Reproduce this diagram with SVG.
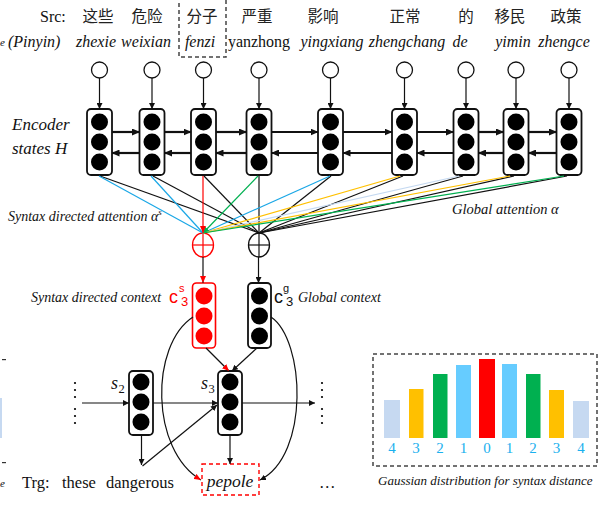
<svg xmlns="http://www.w3.org/2000/svg" width="608" height="506" viewBox="0 0 608 506">
<style>
.t{font-family:"Liberation Serif","Times New Roman",serif;fill:#111}
.cjk{font-family:"Noto Sans CJK SC","Noto Sans CJK JP",sans-serif;fill:#222;font-size:15.5px;text-anchor:middle}
.zh{font-size:16px;text-anchor:middle}
.py{font-size:16px;font-style:italic;text-anchor:middle}
.it{font-style:italic}
.sans{font-family:"Liberation Sans",Arial,sans-serif}
.box{fill:#fff;stroke:#111;stroke-width:1.8}
.rbox{fill:#fff;stroke:#f00;stroke-width:1.6}
.dot{fill:#000}
.rdot{fill:#f00}
.inp{fill:#fff;stroke:#111;stroke-width:1.3}
.ln{stroke:#111;stroke-width:1.2;fill:none}
.thick{stroke:#111;stroke-width:2.2;fill:none}
.att{stroke-width:1.2;fill:none}
.num{font-family:"Liberation Serif","Times New Roman",serif;font-size:15px;fill:#1ab0ee;text-anchor:middle}
</style>
<defs>
<marker id="ah" markerUnits="userSpaceOnUse" markerWidth="8" markerHeight="7" refX="7.5" refY="3.5" orient="auto"><path d="M0,0 L8,3.5 L0,7 z" fill="#111"/></marker>
<marker id="ahs" markerUnits="userSpaceOnUse" markerWidth="6" markerHeight="6" refX="6" refY="3" orient="auto"><path d="M0,0 L6,3 L0,6 z" fill="#111"/></marker>
<marker id="ahr" markerUnits="userSpaceOnUse" markerWidth="7" markerHeight="6" refX="7" refY="3" orient="auto"><path d="M0,0 L7,3 L0,6 z" fill="#f00"/></marker>
<marker id="ahg" markerUnits="userSpaceOnUse" markerWidth="6" markerHeight="6" refX="6" refY="3" orient="auto"><path d="M0,0 L6,3 L0,6 z" fill="#00b050"/></marker>
</defs>

<!-- left edge fragments -->
<g id="edge-fragments">
<text class="t it" x="0" y="46" font-size="11">e</text>
<rect x="2" y="359" width="4" height="1.2" fill="#333"/>
<rect x="0" y="398" width="2" height="40" fill="#c6d9f1"/>
<rect x="2" y="462" width="4" height="1.2" fill="#333"/>
<text class="t it" x="0" y="487" font-size="11">e</text>
</g>

<!-- source text -->
<g id="source-text">
<text class="t" x="40" y="22" font-size="16">Src:</text>
<text class="t it" x="8" y="47" font-size="16">(Pinyin)</text>
<text class="cjk" x="98" y="22">这些</text>
<text class="cjk" x="147" y="22">危险</text>
<text class="cjk" x="202" y="22">分子</text>
<text class="cjk" x="257" y="22">严重</text>
<text class="cjk" x="323" y="22">影响</text>
<text class="cjk" x="405" y="22">正常</text>
<text class="cjk" x="466" y="22">的</text>
<text class="cjk" x="510" y="22">移民</text>
<text class="cjk" x="566" y="22">政策</text>
<text class="t py" x="96" y="47">zhexie</text>
<text class="t py" x="146" y="47">weixian</text>
<text class="t py" x="200" y="47">fenzi</text>
<text class="t zh" x="259" y="47">yanzhong</text>
<text class="t py" x="332" y="47">yingxiang</text>
<text class="t py" x="407" y="47">zhengchang</text>
<text class="t py" x="460" y="47">de</text>
<text class="t py" x="513" y="47">yimin</text>
<text class="t py" x="564" y="47">zhengce</text>
<rect x="179" y="-2" width="47" height="59" fill="none" stroke="#444" stroke-width="1.5" stroke-dasharray="4,3"/>
</g>

<!-- input nodes -->
<g id="inputs">
<circle class="inp" cx="99.5" cy="70" r="8"/>
<circle class="inp" cx="152" cy="70" r="8"/>
<circle class="inp" cx="203.5" cy="70" r="8"/>
<circle class="inp" cx="259" cy="70" r="8"/>
<circle class="inp" cx="330.5" cy="70" r="8"/>
<circle class="inp" cx="404.5" cy="70" r="8"/>
<circle class="inp" cx="466" cy="70" r="8"/>
<circle class="inp" cx="516" cy="70" r="8"/>
<circle class="inp" cx="569" cy="70" r="8"/>
</g>

<!-- encoder states -->
<g id="encoder-label">
<text class="t it" x="12" y="130" font-size="17">Encoder</text>
<text class="t it" x="12" y="154" font-size="17">states H</text>
</g>
<g id="enc1"><rect class="box" x="87" y="109" width="25" height="66" rx="4"/><circle class="dot" cx="99.5" cy="122" r="8.5"/><circle class="dot" cx="99.5" cy="142" r="8.5"/><circle class="dot" cx="99.5" cy="162" r="8.5"/></g>
<g id="enc2"><rect class="box" x="139.5" y="109" width="25" height="66" rx="4"/><circle class="dot" cx="152" cy="122" r="8.5"/><circle class="dot" cx="152" cy="142" r="8.5"/><circle class="dot" cx="152" cy="162" r="8.5"/></g>
<g id="enc3"><rect class="box" x="191" y="109" width="25" height="66" rx="4"/><circle class="dot" cx="203.5" cy="122" r="8.5"/><circle class="dot" cx="203.5" cy="142" r="8.5"/><circle class="dot" cx="203.5" cy="162" r="8.5"/></g>
<g id="enc4"><rect class="box" x="246.5" y="109" width="25" height="66" rx="4"/><circle class="dot" cx="259" cy="122" r="8.5"/><circle class="dot" cx="259" cy="142" r="8.5"/><circle class="dot" cx="259" cy="162" r="8.5"/></g>
<g id="enc5"><rect class="box" x="318" y="109" width="25" height="66" rx="4"/><circle class="dot" cx="330.5" cy="122" r="8.5"/><circle class="dot" cx="330.5" cy="142" r="8.5"/><circle class="dot" cx="330.5" cy="162" r="8.5"/></g>
<g id="enc6"><rect class="box" x="392" y="109" width="25" height="66" rx="4"/><circle class="dot" cx="404.5" cy="122" r="8.5"/><circle class="dot" cx="404.5" cy="142" r="8.5"/><circle class="dot" cx="404.5" cy="162" r="8.5"/></g>
<g id="enc7"><rect class="box" x="453.5" y="109" width="25" height="66" rx="4"/><circle class="dot" cx="466" cy="122" r="8.5"/><circle class="dot" cx="466" cy="142" r="8.5"/><circle class="dot" cx="466" cy="162" r="8.5"/></g>
<g id="enc8"><rect class="box" x="503.5" y="109" width="25" height="66" rx="4"/><circle class="dot" cx="516" cy="122" r="8.5"/><circle class="dot" cx="516" cy="142" r="8.5"/><circle class="dot" cx="516" cy="162" r="8.5"/></g>
<g id="enc9"><rect class="box" x="556.5" y="109" width="25" height="66" rx="4"/><circle class="dot" cx="569" cy="122" r="8.5"/><circle class="dot" cx="569" cy="142" r="8.5"/><circle class="dot" cx="569" cy="162" r="8.5"/></g>

<!-- attention sum nodes -->
<g id="syntax-sum">
<ellipse cx="203" cy="245" rx="10.5" ry="12" fill="#fff" stroke="#f00" stroke-width="1.3"/>
<line x1="203" y1="233" x2="203" y2="257" stroke="#f00" stroke-width="1.2"/>
<line x1="192.5" y1="245" x2="213.5" y2="245" stroke="#f00" stroke-width="1.2"/>
</g>
<g id="global-sum">
<ellipse cx="259" cy="245" rx="10.5" ry="12" fill="#fff" stroke="#111" stroke-width="1.3"/>
<line x1="259" y1="233" x2="259" y2="257" stroke="#111" stroke-width="1.2"/>
<line x1="248.5" y1="245" x2="269.5" y2="245" stroke="#111" stroke-width="1.2"/>
</g>

<g id="attention-labels">
<text class="t it" x="8" y="221" font-size="14">Syntax directed attention α<tspan font-size="9" dy="-6">s</tspan></text>
<text class="t it" x="452" y="214" font-size="14.5">Global attention α</text>
</g>

<!-- context vectors -->
<g id="syntax-context">
<rect class="rbox" x="192.5" y="283" width="23" height="65" rx="4"/>
<circle class="rdot" cx="204" cy="296" r="8.5"/><circle class="rdot" cx="204" cy="316" r="8.5"/><circle class="rdot" cx="204" cy="336" r="8.5"/>
<text class="t it" x="31" y="302" font-size="14">Syntax directed context</text>
<text class="sans" x="169" y="303" font-size="18" fill="#f00">c</text>
<text class="sans" x="179" y="292" font-size="11" fill="#f00">s</text>
<text class="sans" x="181" y="306" font-size="13" fill="#f00">3</text>
</g>
<g id="global-context">
<rect class="box" x="248" y="283" width="23" height="65" rx="4"/>
<circle class="dot" cx="259.5" cy="296" r="8.5"/><circle class="dot" cx="259.5" cy="316" r="8.5"/><circle class="dot" cx="259.5" cy="336" r="8.5"/>
<text class="sans" x="274" y="303" font-size="18" fill="#111">c</text>
<text class="sans" x="283" y="292" font-size="11" fill="#111">g</text>
<text class="sans" x="286" y="306" font-size="13" fill="#111">3</text>
<text class="t it" x="298" y="302" font-size="14">Global context</text>
</g>

<!-- decoder -->
<g id="dec-s2">
<rect class="box" x="129" y="371" width="24" height="64" rx="4"/>
<circle class="dot" cx="141" cy="382" r="8.5"/><circle class="dot" cx="141" cy="402" r="8.5"/><circle class="dot" cx="141" cy="422" r="8.5"/>
<text class="t it" x="111" y="389" font-size="18">s</text><text class="t" x="118.5" y="393" font-size="12.5">2</text>
</g>
<g id="dec-s3">
<rect class="box" x="218" y="371" width="24" height="64" rx="4"/>
<circle class="dot" cx="230" cy="382" r="8.5"/><circle class="dot" cx="230" cy="402" r="8.5"/><circle class="dot" cx="230" cy="422" r="8.5"/>
<text class="t it" x="201" y="389" font-size="18">s</text><text class="t" x="208.5" y="393" font-size="12.5">3</text>
</g>
<g id="dots-left">
<circle class="dot" cx="75" cy="383" r="1.1"/><circle class="dot" cx="75" cy="390" r="1.1"/><circle class="dot" cx="75" cy="397" r="1.1"/>
<circle class="dot" cx="75" cy="409" r="1.1"/><circle class="dot" cx="75" cy="416" r="1.1"/><circle class="dot" cx="75" cy="423" r="1.1"/>
</g>
<g id="dots-right">
<circle class="dot" cx="322" cy="383" r="1.1"/><circle class="dot" cx="322" cy="390" r="1.1"/><circle class="dot" cx="322" cy="397" r="1.1"/>
<circle class="dot" cx="322" cy="409" r="1.1"/><circle class="dot" cx="322" cy="416" r="1.1"/><circle class="dot" cx="322" cy="423" r="1.1"/>
</g>

<!-- target -->
<g id="target-text">
<text class="t" x="22" y="488" font-size="16.5">Trg:</text>
<text class="t" x="62" y="488" font-size="16.5">these</text>
<text class="t" x="106" y="488" font-size="16.5">dangerous</text>
<text class="t" x="319" y="488" font-size="16.5">…</text>
</g>
<g id="target-pepole">
<rect x="202" y="464" width="57" height="31" fill="none" stroke="#f00" stroke-width="1.4" stroke-dasharray="4,3"/>
<text class="t it" x="230" y="487" font-size="17.5" text-anchor="middle">pepole</text>
</g>

<!-- gaussian -->
<g id="gaussian">
<rect x="373" y="354" width="224" height="112" fill="none" stroke="#444" stroke-width="1.5" stroke-dasharray="4,3"/>
<rect x="384" y="400" width="16" height="38" fill="#c6d9f1"/>
<rect x="409" y="389" width="14.5" height="49" fill="#ffc000"/>
<rect x="433" y="374" width="14.5" height="64" fill="#00b050"/>
<rect x="456" y="365" width="15" height="73" fill="#66ccff"/>
<rect x="479" y="359" width="16" height="79" fill="#ff0000"/>
<rect x="502" y="364" width="15" height="74" fill="#66ccff"/>
<rect x="526" y="374" width="14.5" height="64" fill="#00b050"/>
<rect x="549" y="390" width="15" height="48" fill="#ffc000"/>
<rect x="573" y="401" width="16" height="37" fill="#c6d9f1"/>
<text class="num" x="392" y="453">4</text>
<text class="num" x="416" y="453">3</text>
<text class="num" x="440" y="453">2</text>
<text class="num" x="463.5" y="453">1</text>
<text class="num" x="487" y="453">0</text>
<text class="num" x="509.5" y="453">1</text>
<text class="num" x="533" y="453">2</text>
<text class="num" x="556.5" y="453">3</text>
<text class="num" x="581" y="453">4</text>
<text class="t it" x="378" y="485" font-size="13">Gaussian distribution for syntax distance</text>
</g>

<!-- connectors -->
<g id="connectors">
<line class="ln" x1="99.5" y1="78" x2="99.5" y2="109" marker-end="url(#ahs)"/>
<line class="ln" x1="152" y1="78" x2="152" y2="109" marker-end="url(#ahs)"/>
<line class="ln" x1="203.5" y1="78" x2="203.5" y2="109" marker-end="url(#ahs)"/>
<line class="ln" x1="259" y1="78" x2="259" y2="109" marker-end="url(#ahs)"/>
<line class="ln" x1="330.5" y1="78" x2="330.5" y2="109" marker-end="url(#ahs)"/>
<line class="ln" x1="404.5" y1="78" x2="404.5" y2="109" marker-end="url(#ahs)"/>
<line class="ln" x1="466" y1="78" x2="466" y2="109" marker-end="url(#ahs)"/>
<line class="ln" x1="516" y1="78" x2="516" y2="109" marker-end="url(#ahs)"/>
<line class="ln" x1="569" y1="78" x2="569" y2="109" marker-end="url(#ahs)"/>
<line class="thick" x1="112" y1="132" x2="139.5" y2="132" marker-end="url(#ah)"/>
<line class="thick" x1="164.5" y1="132" x2="191" y2="132" marker-end="url(#ah)"/>
<line class="thick" x1="216" y1="132" x2="246.5" y2="132" marker-end="url(#ah)"/>
<line class="thick" x1="271.5" y1="132" x2="318" y2="132" marker-end="url(#ah)"/>
<line class="thick" x1="343" y1="132" x2="392" y2="132" marker-end="url(#ah)"/>
<line class="thick" x1="417" y1="132" x2="453.5" y2="132" marker-end="url(#ah)"/>
<line class="thick" x1="478.5" y1="132" x2="503.5" y2="132" marker-end="url(#ah)"/>
<line class="thick" x1="528.5" y1="132" x2="556.5" y2="132" marker-end="url(#ah)"/>
<line class="thick" x1="139.5" y1="153" x2="112" y2="153" marker-end="url(#ah)"/>
<line class="thick" x1="191" y1="153" x2="164.5" y2="153" marker-end="url(#ah)"/>
<line class="thick" x1="246.5" y1="153" x2="216" y2="153" marker-end="url(#ah)"/>
<line class="thick" x1="318" y1="153" x2="271.5" y2="153" marker-end="url(#ah)"/>
<line class="thick" x1="392" y1="153" x2="343" y2="153" marker-end="url(#ah)"/>
<line class="thick" x1="453.5" y1="153" x2="417" y2="153" marker-end="url(#ah)"/>
<line class="thick" x1="503.5" y1="153" x2="478.5" y2="153" marker-end="url(#ah)"/>
<line class="thick" x1="556.5" y1="153" x2="528.5" y2="153" marker-end="url(#ah)"/>
<line class="att" stroke="#111" x1="100" y1="176" x2="259" y2="233"/>
<line class="att" stroke="#111" x1="153" y1="176" x2="259" y2="233"/>
<line class="att" stroke="#111" x1="204" y1="176" x2="259" y2="233"/>
<line class="att" stroke="#111" x1="259" y1="176" x2="259" y2="233"/>
<line class="att" stroke="#111" x1="331" y1="176" x2="259" y2="233"/>
<line class="att" stroke="#111" x1="403" y1="176" x2="259" y2="233"/>
<line class="att" stroke="#111" x1="463" y1="176" x2="259" y2="233"/>
<line class="att" stroke="#111" x1="514" y1="176" x2="259" y2="233"/>
<line class="att" stroke="#111" x1="567" y1="176" x2="259" y2="233"/>
<line class="att" stroke="#1aa7e6" x1="99" y1="176" x2="203" y2="233"/>
<line class="att" stroke="#1aa7e6" x1="151" y1="176" x2="203" y2="233"/>
<line class="att" stroke="#1aa7e6" x1="330" y1="176" x2="203" y2="233"/>
<line class="att" stroke="#ffc000" x1="400" y1="176" x2="203" y2="233"/>
<line class="att" stroke="#c5d9f1" x1="459" y1="176" x2="203" y2="233"/>
<line class="att" stroke="#ffc000" x1="510" y1="176" x2="203" y2="233"/>
<line class="att" stroke="#00b050" x1="564" y1="176" x2="203" y2="233"/>
<line class="att" stroke="#00b050" x1="258" y1="176" x2="203" y2="233" marker-end="url(#ahg)"/>
<line class="att" stroke="#f00" x1="203" y1="176" x2="203" y2="233" marker-end="url(#ahr)"/>
<line class="ln" stroke="#f00" x1="203" y1="257" x2="203" y2="283" marker-end="url(#ahr)"/>
<line class="ln" x1="258.5" y1="257" x2="258.5" y2="283" marker-end="url(#ahs)"/>
<line class="ln" stroke="#f00" x1="206" y1="348" x2="229" y2="371" marker-end="url(#ahr)"/>
<line class="ln" x1="257" y1="348" x2="232" y2="371" marker-end="url(#ahs)"/>
<path class="ln" stroke="#f00" d="M193,317 C150,345 150,450 201,480" marker-end="url(#ahr)"/>
<path class="ln" d="M271,317 C305,340 310,455 260,480" marker-end="url(#ahs)"/>
<line class="ln" x1="82" y1="403" x2="129" y2="403" marker-end="url(#ahs)"/>
<line class="ln" x1="153" y1="403" x2="218" y2="403" marker-end="url(#ahs)"/>
<line class="ln" x1="242" y1="403" x2="315" y2="403" marker-end="url(#ahs)"/>
<line class="ln" x1="141.5" y1="435" x2="141.5" y2="465" marker-end="url(#ahs)"/>
<line class="ln" x1="142.5" y1="466" x2="217" y2="405" marker-end="url(#ahs)"/>
<line class="ln" x1="230" y1="435" x2="230" y2="464" marker-end="url(#ahs)"/>
</g>
</svg>
